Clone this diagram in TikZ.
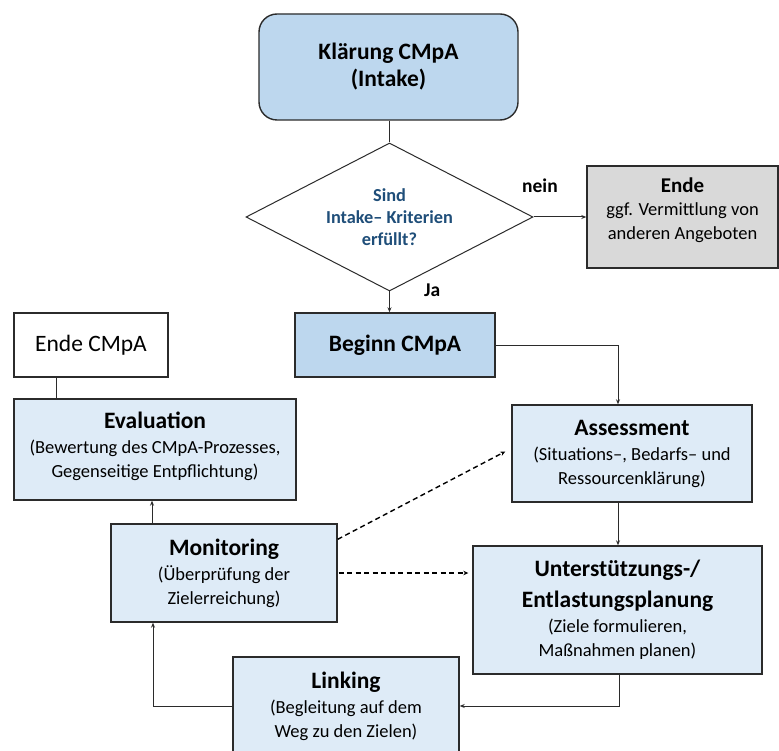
\documentclass[tikz,border=0pt]{standalone}
\usepackage{fontspec}
\setmainfont{Carlito}
\usetikzlibrary{shapes.geometric,arrows.meta,calc}
\definecolor{bluedark}{HTML}{BDD7EE}
\definecolor{bluelight}{HTML}{DEEBF7}
\definecolor{greybox}{HTML}{D9D9D9}
\definecolor{qtext}{HTML}{1F4E79}
\definecolor{edge}{HTML}{2B2B2B}
\newcommand{\ttlf}{\fontsize{23.5}{27}\selectfont\bfseries}
\begin{document}
\begin{tikzpicture}[x=1pt,y=-1pt,
  box/.style={draw=edge,line width=1.4pt,align=center,inner sep=0pt,font=\fontsize{18.5}{24}\selectfont},
  con/.style={draw=edge,line width=1pt},
  arr/.style={con,-{Stealth[length=5pt,width=4pt]}},
  dasharr/.style={draw=black,line width=1.4pt,dash pattern=on 5pt off 3.5pt,-{Stealth[length=5pt,width=4.5pt]}},
]
\useasboundingbox (0,0) rectangle (779,751);
\fill[white] (0,0) rectangle (779,751);

% nodes
\node[box,fill=bluedark,rounded corners=18pt,minimum width=259pt,minimum height=106pt,font=\ttlf] (intake) at (388.5,67) {Klärung CMpA\\(Intake)};
\node[draw=edge,line width=1pt,diamond,aspect=1.94,minimum width=287pt,minimum height=148pt,inner sep=0pt,align=center,text=qtext,font=\fontsize{18.3}{22}\selectfont\bfseries] (crit) at (389.5,217) {Sind\\Intake– Kriterien\\erfüllt?};
\node[box,fill=greybox,minimum width=191pt,minimum height=102pt] (ende) at (682.5,217) {};
\node[align=center,inner sep=0pt,font=\fontsize{18.5}{23.5}\selectfont] (endetext) at ([yshift=7pt]ende.center) {\textbf{\fontsize{21}{23.5}\selectfont Ende}\\ggf. Vermittlung von\\anderen Angeboten};
\node[box,fill=bluedark,minimum width=200pt,minimum height=64pt,font=\ttlf] (beginn) at (395,345) {Beginn CMpA};
\node[box,fill=white,minimum width=154pt,minimum height=64pt,font=\fontsize{23.5}{27}\selectfont] (endecm) at (91,345) {Ende CMpA};
\node[box,fill=bluelight,minimum width=282pt,minimum height=101pt] (eval) at (155,449.5) {};
\node[align=center,inner sep=0pt,font=\fontsize{18.5}{24}\selectfont] (evaltext) at ([yshift=3pt]eval.center) {\textbf{\fontsize{23.5}{24}\selectfont Evaluation}\\[1pt](Bewertung des CMpA-Prozesses,\\Gegenseitige Entpflichtung)};
\node[box,fill=bluelight,minimum width=240pt,minimum height=97pt] (assess) at (632,453.5) {\textbf{\fontsize{23.5}{24}\selectfont Assessment}\\[1pt](Situations–, Bedarfs– und\\Ressourcenklärung)};
\node[box,fill=bluelight,minimum width=226pt,minimum height=98pt] (mon) at (224,573) {\textbf{\fontsize{23.5}{24}\selectfont Monitoring}\\[1pt](Überprüfung der\\Zielerreichung)};
\node[box,fill=bluelight,minimum width=289pt,minimum height=128pt] (unter) at (617.5,610) {\textbf{\fontsize{23.5}{24}\selectfont Unterstützungs-/}\\[7pt]\textbf{\fontsize{23.5}{24}\selectfont Entlastungsplanung}\\[1pt](Ziele formulieren,\\Maßnahmen planen)};
\node[box,fill=bluelight,minimum width=226pt,minimum height=98pt] (link) at (346,706) {\textbf{\fontsize{23.5}{24}\selectfont Linking}\\[1pt](Begleitung auf dem\\Weg zu den Zielen)};

% connectors
\draw[con] (intake.south -| crit.north) -- (crit.north);
\draw[arr] (crit.south) -- (crit.south |- beginn.north);
\node[font=\fontsize{19.5}{22}\selectfont\bfseries,anchor=west,inner sep=0pt] (ja) at (424,290) {Ja};
\draw[arr] (crit.east) -- (ende.west);
\node[font=\fontsize{19.5}{22}\selectfont\bfseries,anchor=west,inner sep=0pt] (nein) at (522,186) {nein};
\draw[arr] (beginn.east) -| ([xshift=-14pt]assess.north);
\draw[arr] ([xshift=-14pt]assess.south) -- ([xshift=-14pt]assess.south |- unter.north);
\draw[arr] ([xshift=2pt]unter.south) |- (link.east);
\draw[arr] (link.west) -| ([xshift=-71pt]mon.south);
\draw[arr] ([xshift=-72pt]mon.north) -- ([xshift=-72pt]mon.north |- eval.south);
\draw[con] ([xshift=-35pt]endecm.south |- eval.north) -- ([xshift=-35pt]endecm.south);
\draw[dasharr] ([yshift=-16pt]mon.north east) -- ([xshift=-6pt,yshift=2pt]assess.west);
\draw[dasharr] ([xshift=1pt]mon.east) -- ([xshift=-4pt]mon.east -| unter.west);
\end{tikzpicture}
\end{document}
